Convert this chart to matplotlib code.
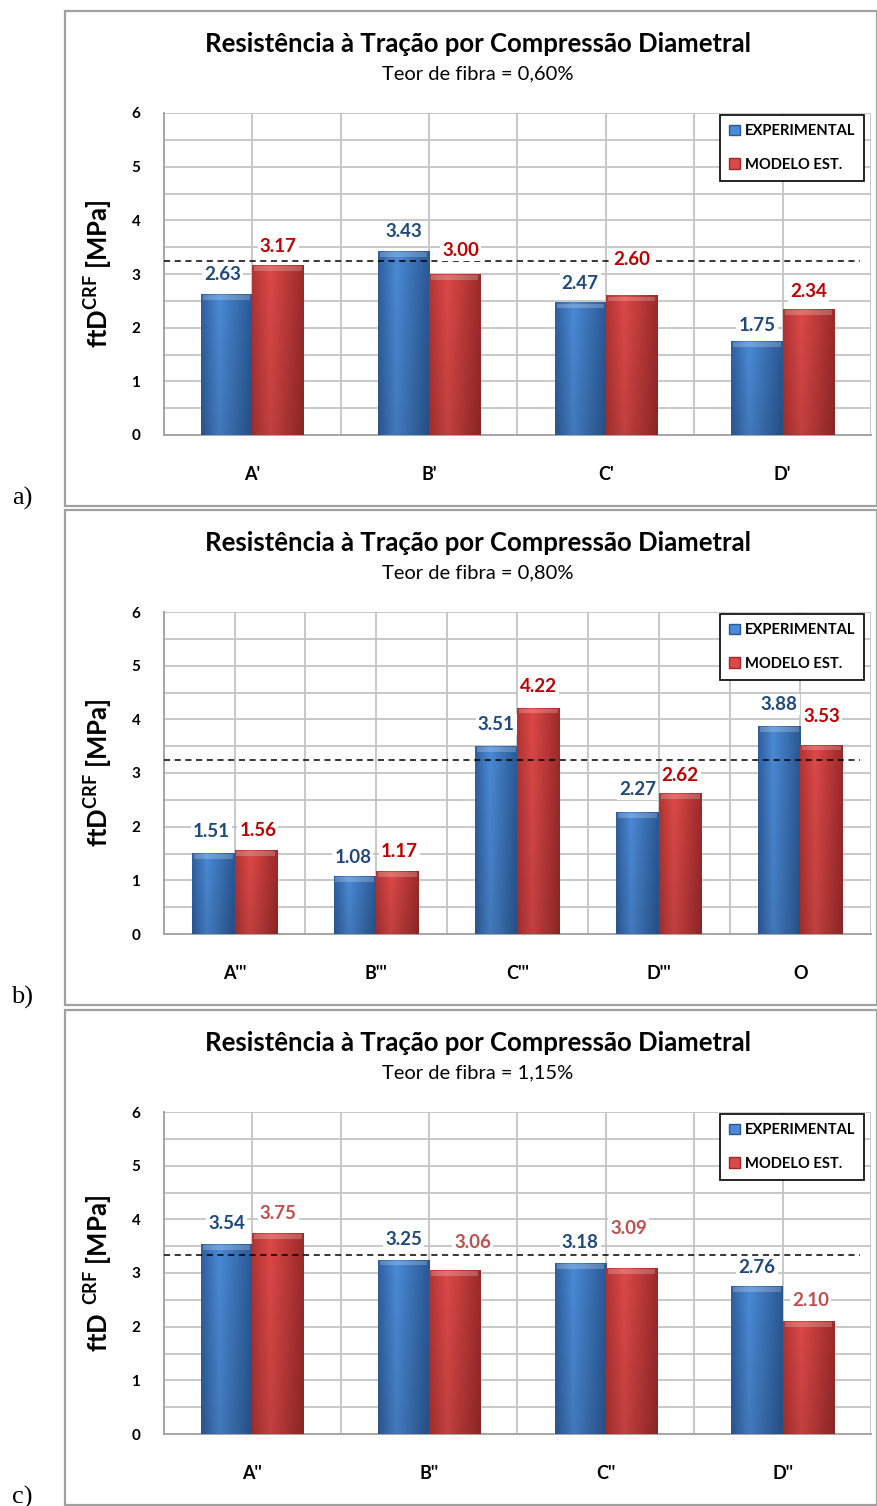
import numpy as np
import matplotlib
matplotlib.use("Agg")
import matplotlib.pyplot as plt
from matplotlib.patches import Rectangle, Patch
from matplotlib.colors import to_rgb

# ---- data -------------------------------------------------------------
cats_a = ["A'", "B'", "C'", "D'"]
exp_a = [2.63, 3.43, 2.47, 1.75]
mod_a = [3.17, 3.00, 2.60, 2.34]

cats_b = ["A'''", "B'''", "C'''", "D'''", "O"]
exp_b = [1.51, 1.08, 3.51, 2.27, 3.88]
mod_b = [1.56, 1.17, 4.22, 2.62, 3.53]

cats_c = ["A''", "B''", "C''", "D''"]
exp_c = [3.54, 3.25, 3.18, 2.76]
mod_c = [3.75, 3.06, 3.09, 2.10]

fiber_content = ["0,60%", "0,80%", "1,15%"]
reference_level = [3.25, 3.25, 3.33]
panel_tags = ["a)", "b)", "c)"]
series_names = ["EXPERIMENTAL", "MODELO EST."]

# ---- style ------------------------------------------------------------
W, H = 878, 1506
FONT = "Lato"
plt.rcParams["font.family"] = [FONT, "DejaVu Sans"]

BLUE = ("#2f5f9f", "#4b8ad6", "#2a5894")
RED = ("#b23434", "#dc4947", "#9d2a2a")
BLUE_TXT = "#1f497d"
RED_TXT_DARK = "#c00000"
RED_TXT_LIGHT = "#c0504d"
GRID = "#c4c4c4"

fig = plt.figure(figsize=(W / 100, H / 100), dpi=100)


def rect(l, t, r, b):
    return [l / W, 1 - b / H, (r - l) / W, (b - t) / H]


def gradient_image(cols):
    left, mid, right = (np.array(to_rgb(c)) for c in cols)
    n = 60
    xs = np.linspace(0, 1, n)
    row = np.empty((n, 3))
    for i, x in enumerate(xs):
        if x < 0.35:
            t = x / 0.35
            row[i] = left * (1 - t) + mid * t
        else:
            t = (x - 0.35) / 0.65
            row[i] = mid * (1 - t) + right * t
    rows = 40
    shade = np.linspace(1.0, 0.88, rows)[:, None, None]
    return np.clip(row[None, :, :] * shade, 0, 1)


def gradient_bars(ax, xs, heights, width, cols):
    img = gradient_image(cols)
    bars = ax.bar(xs, heights, width=width, color="none", edgecolor="none", zorder=3)
    for b in bars:
        x0, w, h = b.get_x(), b.get_width(), b.get_height()
        im = ax.imshow(img, extent=(x0, x0 + w, 0, h), aspect="auto",
                       origin="upper", zorder=3, interpolation="bilinear")
        im.set_clip_path(b)
        # light bevel along the top edge
        ax.add_patch(Rectangle((x0 + w * 0.04, h - 0.11), w * 0.92, 0.09,
                               facecolor="white", alpha=0.22, edgecolor="none", zorder=4))
    return bars


def draw_panel(top, cats, exp, mod, fiber, ref, tag, label_gap, red_txt,
               ylab, frame_bottom):
    # outer frame of the chart
    fig.add_artist(Rectangle((65 / W, 1 - frame_bottom / H),
                             (877 - 65) / W, (frame_bottom - top) / H,
                             transform=fig.transFigure, facecolor="white",
                             edgecolor="#a0a0a0", linewidth=1.6, zorder=0))
    fig.text(478 / W, 1 - (top + 33) / H,
             "Resistência à Tração por Compressão Diametral",
             ha="center", va="center", fontsize=18.5, fontweight="bold")
    fig.text(478 / W, 1 - (top + 63) / H, "Teor de fibra = " + fiber,
             ha="center", va="center", fontsize=14.5)
    fig.text(22 / W, 1 - (frame_bottom - 8) / H, tag, ha="center", va="center",
             fontsize=19, family="Liberation Serif")

    ax = fig.add_axes(rect(164, top + 102, 871, top + 424))
    n = len(cats)
    x = np.arange(n)
    bw = 0.29 if n == 4 else 0.30
    ax.set_xlim(-0.5, n - 0.5)
    ax.set_ylim(0, 6)
    ax.set_yticks(np.arange(0, 7, 1))
    ax.set_yticks(np.arange(0.5, 6.0, 1.0), minor=True)
    ax.set_xticks(x)
    ax.set_xticks(np.arange(-0.5, n, 1.0), minor=True)
    ax.set_xticklabels(cats, fontweight="bold", fontsize=13)
    ax.set_yticklabels([str(v) for v in range(7)], fontweight="bold", fontsize=11)
    ax.tick_params(axis="both", which="both", length=0)
    ax.tick_params(axis="x", pad=22)
    ax.tick_params(axis="y", pad=17)
    ax.grid(True, which="both", color=GRID, linewidth=1.3, zorder=0)
    ax.set_axisbelow(True)
    for s in ("top", "right"):
        ax.spines[s].set_visible(False)
    for s in ("left", "bottom"):
        ax.spines[s].set_color("#a6a6a6")
        ax.spines[s].set_linewidth(1.4)

    gradient_bars(ax, x - bw / 2, exp, bw, BLUE)
    gradient_bars(ax, x + bw / 2, mod, bw, RED)

    ax.axhline(ref, xmin=0.0, xmax=0.985, color="black", linestyle=(0, (4, 3)),
               linewidth=1.1, zorder=6)

    for i in range(n):
        dx1, dy1 = label_gap[0][i]
        dx2, dy2 = label_gap[1][i]
        ax.annotate(f"{exp[i]:.2f}", (x[i] - bw / 2, exp[i]),
                    xytext=(dx1, dy1), textcoords="offset pixels",
                    ha="center", va="center", fontsize=13.5, fontweight="bold",
                    color=BLUE_TXT, zorder=7,
                    bbox=dict(facecolor="white", edgecolor="none", pad=1.5))
        ax.annotate(f"{mod[i]:.2f}", (x[i] + bw / 2, mod[i]),
                    xytext=(dx2, dy2), textcoords="offset pixels",
                    ha="center", va="center", fontsize=13.5, fontweight="bold",
                    color=red_txt, zorder=7,
                    bbox=dict(facecolor="white", edgecolor="none", pad=1.5))

    ax.set_ylabel(ylab, fontsize=18.5, fontweight="bold", labelpad=12)

    handles = [Patch(facecolor=BLUE[1], edgecolor=BLUE[2]),
               Patch(facecolor=RED[1], edgecolor=RED[2])]
    leg = ax.legend(handles, series_names, loc="upper right",
                    bbox_to_anchor=((864 - 164) / 707, 1 - 2 / 322),
                    borderaxespad=0, fancybox=False, edgecolor="black",
                    framealpha=1, handlelength=0.7, handleheight=0.7,
                    handletextpad=0.35, labelspacing=1.35, borderpad=0.6,
                    prop=dict(family=[FONT], weight="bold", size=10.6))
    leg.get_frame().set_linewidth(1.2)
    leg.set_zorder(8)
    return ax


ylab_ab = r"ftD$^{\mathregular{CRF}}$ [MPa]"
ylab_c = r"ftD$\ ^{\mathregular{CRF}}$ [MPa]"

gap_a = [[(-4, 19), (0, 19), (0, 19), (0, 16)],
         [(0, 18), (6, 24), (0, 36), (0, 18)]]
gap_b = [[(-2, 21), (-2, 19), (0, 21), (0, 23), (0, 21)],
         [(2, 20), (2, 20), (0, 21), (0, 18), (0, 28)]]
gap_c = [[(0, 21), (0, 20), (0, 21), (0, 18)],
         [(0, 19), (18, 27), (-3, 40), (2, 21)]]

draw_panel(11, cats_a, exp_a, mod_a, fiber_content[0], reference_level[0],
           panel_tags[0], gap_a, RED_TXT_DARK, ylab_ab, 506)
draw_panel(510, cats_b, exp_b, mod_b, fiber_content[1], reference_level[1],
           panel_tags[1], gap_b, RED_TXT_DARK, ylab_ab, 1005)
draw_panel(1010, cats_c, exp_c, mod_c, fiber_content[2], reference_level[2],
           panel_tags[2], gap_c, RED_TXT_LIGHT, ylab_c, 1505)

fig.savefig("out.png", dpi=100)
